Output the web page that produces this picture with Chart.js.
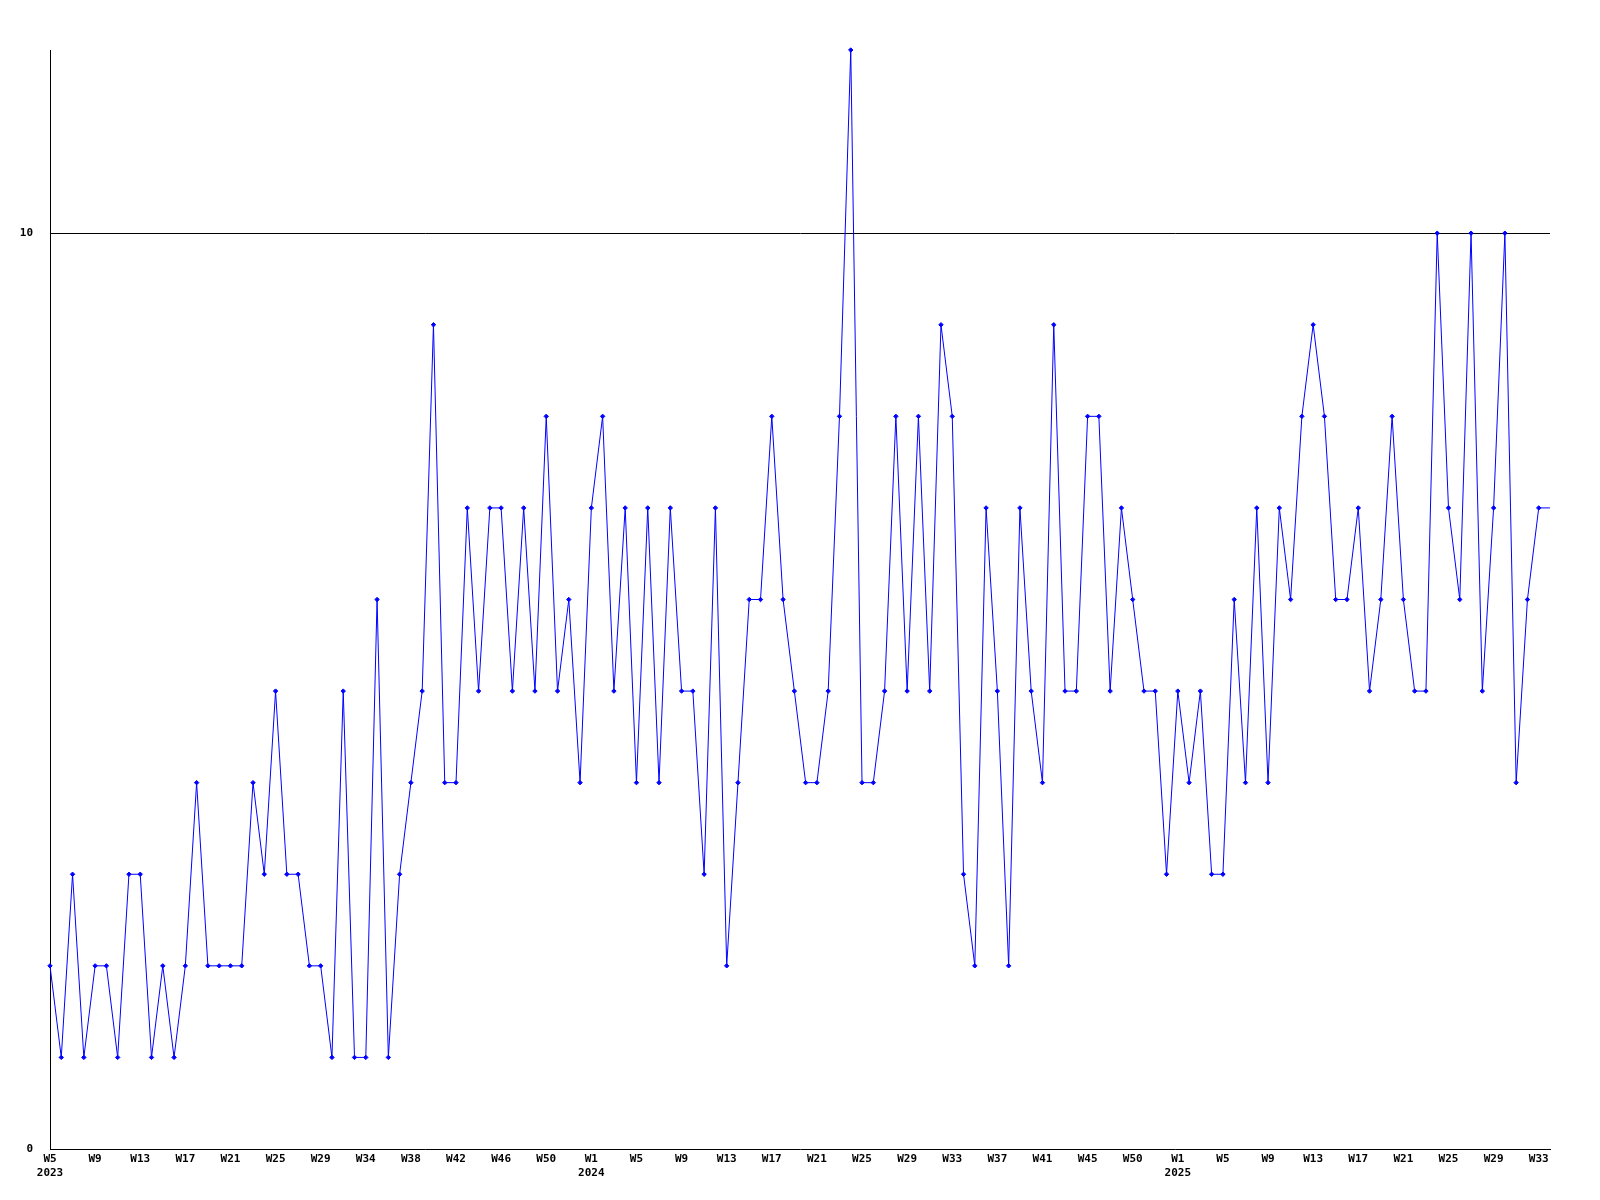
<!DOCTYPE html>
<html>
<head>
<meta charset="utf-8">
<script src="https://cdn.jsdelivr.net/npm/chart.js@4/dist/chart.umd.min.js"></script>
<style>
    html, body { margin: 0; padding: 0; background: #fff; }
    canvas { display: block; }
</style>
</head>
<body>
<canvas id="weeklyChart" width="1600" height="1200"></canvas>
<script>
// weekly counts, 2023 W5 .. 2025 (last point is the partial week at the right edge)
const values = [
    2, 1, 3, 1, 2, 2, 1, 3, 3, 1, 2, 1, 2, 4, 2, 2, 2, 2, 4,
    3, 5, 3, 3, 2, 2, 1, 5, 1, 1, 6, 1, 3, 4, 5, 9, 4, 4, 7,
    5, 7, 7, 5, 7, 5, 8, 5, 6, 4, 7, 8, 5, 7, 4, 7, 4, 7, 5,
    5, 3, 7, 2, 4, 6, 6, 8, 6, 5, 4, 4, 5, 8, 12, 4, 4, 5, 8,
    5, 8, 5, 9, 8, 3, 2, 7, 5, 2, 7, 5, 4, 9, 5, 5, 8, 8, 5,
    7, 6, 5, 5, 3, 5, 4, 5, 3, 3, 6, 4, 7, 4, 7, 6, 8, 9, 8,
    6, 6, 7, 5, 6, 8, 6, 5, 5, 10, 7, 6, 10, 5, 7, 10, 4, 6, 7,
    7
];

// tick labels shown on the x axis (one every 4 points)
const ticks2023 = ['W5', 'W9', 'W13', 'W17', 'W21', 'W25', 'W29', 'W34', 'W38', 'W42', 'W46', 'W50'];
const ticks2024 = ['W1', 'W5', 'W9', 'W13', 'W17', 'W21', 'W25', 'W29', 'W33', 'W37', 'W41', 'W45', 'W50'];
const ticks2025 = ['W1', 'W5', 'W9', 'W13', 'W17', 'W21', 'W25', 'W29', 'W33'];
const years = ['2023', '2024', '2025'];
const yTicks = [0, 10];

const tickLabels = ticks2023.concat(ticks2024, ticks2025);
const yearAtTick = {};
yearAtTick[0] = years[0];
yearAtTick[ticks2023.length] = years[1];
yearAtTick[ticks2023.length + ticks2024.length] = years[2];

// one category per week
const categories = [];
let year = 2023, week = 5;
for (let i = 0; i < values.length; i++) {
    categories.push(year + '-W' + week);
    week++;
    if (week > 52) { week = 1; year++; }
}

const tickFont = { family: "'DejaVu Sans Mono', monospace", size: 11, weight: 'bold' };

new Chart(document.getElementById('weeklyChart'), {
    type: 'line',
    data: {
        labels: categories,
        datasets: [{
            data: values,
            borderColor: '#0000ff',
            backgroundColor: '#0000ff',
            borderWidth: 1,
            tension: 0,
            pointStyle: 'rectRot',
            pointRadius: ctx => ctx.dataIndex === values.length - 1 ? 0 : 2.2,
            pointBorderWidth: 1,
            clip: false
        }]
    },
    options: {
        responsive: false,
        animation: false,
        devicePixelRatio: 1,
        layout: { padding: { left: 0, top: 50, right: 50, bottom: 0 } },
        plugins: {
            legend: { display: false },
            tooltip: { enabled: false }
        },
        scales: {
            x: {
                offset: false,
                grid: { display: false, drawTicks: false },
                border: { display: true, color: '#000', width: 1 },
                afterFit: scale => { scale.height = 51; },
                ticks: {
                    autoSkip: false,
                    maxRotation: 0,
                    minRotation: 0,
                    padding: 4,
                    color: '#000',
                    font: tickFont,
                    callback: function(val, index) {
                        if (index % 4 !== 0) return null;
                        const t = index / 4;
                        const lbl = tickLabels[t];
                        if (lbl === undefined) return null;
                        return yearAtTick[t] ? [lbl, yearAtTick[t]] : lbl;
                    }
                }
            },
            y: {
                min: 0,
                max: 12,
                afterBuildTicks: scale => { scale.ticks = yTicks.map(v => ({ value: v })); },
                afterFit: scale => { scale.width = 50; },
                grid: {
                    drawTicks: false,
                    color: ctx => ctx.tick && ctx.tick.value === 10 ? '#000' : 'rgba(0,0,0,0)',
                    lineWidth: 1
                },
                border: { display: true, color: '#000', width: 1 },
                ticks: {
                    padding: 17,
                    color: '#000',
                    font: tickFont
                }
            }
        }
    }
});
</script>
</body>
</html>
